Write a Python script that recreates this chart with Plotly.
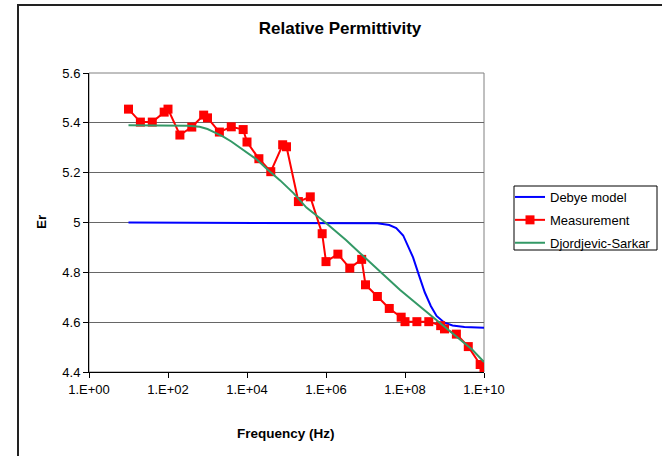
import plotly.graph_objects as go

# ---------------- data ----------------
meas_freq = [10, 20, 40, 80, 100, 200, 400, 800, 1e3, 2e3, 4e3, 8e3, 1e4, 2e4, 4e4, 8e4, 1e5,
             2e5, 4e5, 8e5, 1e6, 2e6, 4e6, 8e6, 1e7, 2e7, 4e7, 8e7, 1e8, 2e8, 4e8, 8e8, 1e9,
             2e9, 4e9, 8e9, 1e10]
meas_er = [5.455, 5.403, 5.403, 5.443, 5.455, 5.351, 5.383, 5.431, 5.420, 5.363, 5.384, 5.373,
           5.323, 5.256, 5.204, 5.312, 5.304, 5.084, 5.103, 4.955, 4.843, 4.873, 4.817, 4.852,
           4.750, 4.703, 4.655, 4.620, 4.602, 4.602, 4.602, 4.586, 4.573, 4.552, 4.502, 4.430,
           4.406]

debye_freq = [10, 1e3, 1e5, 1e7, 2e7, 4e7, 6e7, 9e7, 1.26e8, 1.6e8, 2.24e8, 3.16e8, 4.5e8,
              6.3e8, 1e9, 1.6e9, 3.2e9, 1e10]
debye_er = [5.0, 5.0, 5.0, 4.999, 4.997, 4.99, 4.978, 4.948, 4.90, 4.86, 4.79, 4.72, 4.665,
            4.625, 4.598, 4.587, 4.581, 4.578]

ds_freq = [10, 100, 316, 631, 1e3, 1.6e3, 2.5e3, 4e3, 6.6e3, 1e4, 1.8e4, 3.2e4, 6.9e4, 1.5e5,
           3.2e5, 1e6, 3.2e6, 7.2e6, 2.3e7, 7.4e7, 2.4e8, 7.8e8, 2.5e9, 5e9, 1e10]
ds_er = [5.39, 5.39, 5.388, 5.384, 5.375, 5.36, 5.345, 5.325, 5.30, 5.28, 5.252, 5.215, 5.169,
         5.118, 5.06, 4.998, 4.93, 4.878, 4.803, 4.73, 4.663, 4.596, 4.529, 4.49, 4.44]

x_tickvals = [1, 1e2, 1e4, 1e6, 1e8, 1e10]
x_ticktext = ["1.E+00", "1.E+02", "1.E+04", "1.E+06", "1.E+08", "1.E+10"]
y_tickvals = [4.4, 4.6, 4.8, 5.0, 5.2, 5.4, 5.6]
y_ticktext = ["4.4", "4.6", "4.8", "5", "5.2", "5.4", "5.6"]

FONT = "Arial, 'Liberation Sans', sans-serif"

fig = go.Figure()
fig.add_trace(go.Scatter(x=debye_freq, y=debye_er, mode="lines", name="Debye model",
                         legendgroup="a",
                         line=dict(color="#0000FF", width=2)))
fig.add_trace(go.Scatter(x=meas_freq, y=meas_er, mode="lines+markers", name="Measurement",
                         legendgroup="b",
                         line=dict(color="#FF0000", width=2),
                         marker=dict(symbol="square", size=9, color="#FF0000")))
fig.add_trace(go.Scatter(x=ds_freq, y=ds_er, mode="lines", name="Djordjevic-Sarkar",
                         legendgroup="c",
                         line=dict(color="#339966", width=2)))

W, H = 662, 456
L, R, T, B = 89, 484, 73, 372


def px_x(px):
    return (px - L) / (R - L)


def px_y(py):
    return (B - py) / (B - T)


fig.update_layout(
    width=W, height=H,
    margin=dict(l=L, r=W - R, t=T, b=H - B, pad=0, autoexpand=False),
    paper_bgcolor="white", plot_bgcolor="white",
    font=dict(family=FONT, size=13, color="black"),
    title=dict(text="<b>Relative Permittivity</b>", x=340 / W, xref="container",
               xanchor="center", y=1 - 28 / H, yref="container", yanchor="middle",
               font=dict(family=FONT, size=17, color="black")),
    showlegend=True,
    legend=dict(x=px_x(510), y=px_y(182), xanchor="left", yanchor="top",
                borderwidth=0, bgcolor="rgba(0,0,0,0)",
                font=dict(family=FONT, size=13, color="black"),
                itemwidth=30, tracegroupgap=3, traceorder="grouped"),
    xaxis=dict(type="log", range=[0, 10], tickvals=x_tickvals, ticktext=x_ticktext,
               showgrid=False, zeroline=False, showline=True, linecolor="black", linewidth=1,
               ticks="outside", ticklen=5, tickcolor="black", automargin=False,
               tickfont=dict(family=FONT, size=13, color="black")),
    yaxis=dict(range=[4.4, 5.6], tickvals=y_tickvals, ticktext=y_ticktext,
               showgrid=True, gridcolor="#666666", gridwidth=1, zeroline=False,
               showline=True, linecolor="black", linewidth=1, automargin=False,
               ticks="outside", ticklen=5, tickcolor="black",
               tickfont=dict(family=FONT, size=13, color="black")),
    shapes=[
        dict(type="rect", xref="paper", yref="paper", x0=0, x1=1, y0=0, y1=1,
             line=dict(color="#808080", width=1), layer="below"),
        dict(type="rect", xref="paper", yref="paper", x0=px_x(18), x1=px_x(700),
             y0=px_y(500), y1=px_y(5), line=dict(color="#222222", width=2), layer="below"),
        dict(type="rect", xref="paper", yref="paper", x0=px_x(514), x1=px_x(657),
             y0=px_y(250), y1=px_y(186), line=dict(color="black", width=1),
             fillcolor="rgba(0,0,0,0)", layer="above"),
    ],
    annotations=[
        dict(text="<b>Frequency (Hz)</b>", xref="paper", yref="paper", x=px_x(286),
             y=px_y(433), showarrow=False, xanchor="center", yanchor="middle",
             font=dict(family=FONT, size=13.5, color="black")),
        dict(text="<b>Er</b>", xref="paper", yref="paper", x=px_x(41), y=px_y(222),
             showarrow=False, xanchor="center", yanchor="middle", textangle=-90,
             font=dict(family=FONT, size=13.5, color="black")),
    ],
)

fig.write_html("out.html")
